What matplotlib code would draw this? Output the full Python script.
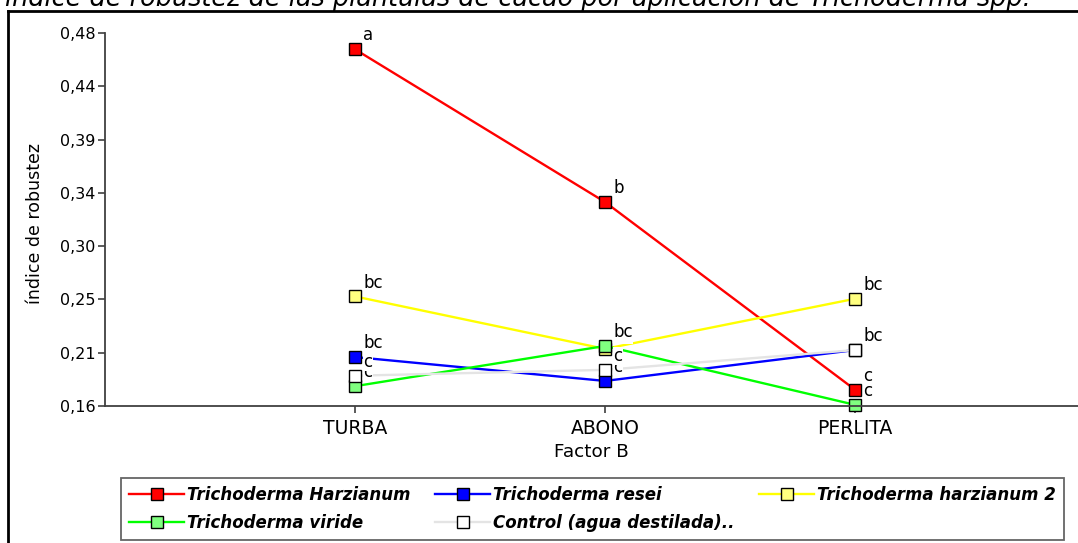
import matplotlib
matplotlib.use("Agg")
import matplotlib.pyplot as plt
from matplotlib.lines import Line2D

plt.rcParams['font.family'] = ['DejaVu Sans']

categories = ["TURBA", "ABONO", "PERLITA"]
series_names = ["Trichoderma Harzianum", "Trichoderma resei", "Trichoderma harzianum 2",
                "Trichoderma viride", "Control (agua destilada).."]
harzianum = [0.466, 0.335, 0.174]
resei = [0.202, 0.1815, 0.208]
harzianum2 = [0.254, 0.209, 0.252]
viride = [0.177, 0.2115, 0.161]
control = [0.186, 0.191, 0.208]
letters_harzianum = ["a", "b", "c"]
letters_resei = ["bc", "c", "bc"]
letters_harzianum2 = ["bc", "bc", "bc"]
letters_viride = ["c", "bc", "c"]
letters_control = ["c", "c", "bc"]
ytick_labels = ["0,16", "0,21", "0,25", "0,30", "0,34", "0,39", "0,44", "0,48"]

values = [harzianum, resei, harzianum2, viride, control]
letters = [letters_harzianum, letters_resei, letters_harzianum2, letters_viride, letters_control]
line_colors = ["#ff0000", "#0000ff", "#ffff00", "#00ff00", "#e4e4e4"]
face_colors = ["#ff0000", "#0000ff", "#ffff80", "#80ff80", "#ffffff"]

W, H = 1078, 543
fig = plt.figure(figsize=(W / 100, H / 100), dpi=100)
ax = fig.add_axes([105 / W, 1 - 406 / H, (W - 105) / W, (406 - 33) / H])

x = list(range(len(categories)))
handles = []
for i, (vals, lab) in enumerate(zip(values, letters)):
    h, = ax.plot(x, vals, color=line_colors[i], lw=1.7, zorder=2,
                 marker="s", markersize=8, markerfacecolor=face_colors[i],
                 markeredgecolor="black", markeredgewidth=1.0, label=series_names[i],
                 clip_on=False)
    handles.append(h)
for i, (vals, lab) in enumerate(zip(values, letters)):
    for xi, v, t in zip(x, vals, lab):
        ax.annotate(t, (xi, v), xytext=(6, 10), textcoords="offset points",
                    ha="left", va="center", fontsize=12, zorder=3 + i,
                    bbox=dict(facecolor="white", edgecolor="none", pad=0.2),
                    annotation_clip=False)

ax.set_xlim(-1.0, 2.892)
ax.set_ylim(0.16, 0.48)
ax.set_xticks(x)
ax.set_xticklabels(categories, fontsize=13.5)
ticks = [0.16 + k * 0.32 / 7 for k in range(8)]
ax.set_yticks(ticks)
ax.set_yticklabels(ytick_labels, fontsize=11.5)
for s in ["top", "right"]:
    ax.spines[s].set_visible(False)
for s in ["left", "bottom"]:
    ax.spines[s].set_color("#404040")
    ax.spines[s].set_linewidth(1.3)
ax.tick_params(length=5, width=1.2, color="#404040", pad=2)
ax.tick_params(axis="x", pad=4)
ax.set_xlabel("Factor B", fontsize=13.2, labelpad=4)
ax.set_ylabel("índice de robustez", fontsize=12.5)
ax.yaxis.set_label_coords(-61 / (W - 105), 0.49)

order = [0, 3, 1, 4, 2]
leg = fig.legend([handles[k] for k in order], [series_names[k] for k in order],
                 loc="upper left", bbox_to_anchor=(121 / W, 1 - 478 / H),
                 ncol=3, frameon=True, fancybox=False,
                 prop=dict(family="DejaVu Sans", size=12, style="oblique", weight="bold"),
                 handlelength=3.3, handletextpad=0.2, columnspacing=1.45,
                 borderpad=0.48, labelspacing=0.62, borderaxespad=0)
leg.get_frame().set_edgecolor("#404040")
leg.get_frame().set_linewidth(1.3)

fig.add_artist(Line2D([8 / W, 8 / W], [0, 1 - 11 / H], transform=fig.transFigure,
                      color="black", lw=2))
fig.add_artist(Line2D([8 / W, 1], [1 - 11 / H, 1 - 11 / H], transform=fig.transFigure,
                      color="black", lw=2))

fig.text(5 / W, 1 - 6 / H,
         "índice de robustez de las plántulas de cacao por aplicación de Trichoderma spp.",
         fontsize=18.4, style="oblique", ha="left", va="baseline")

fig.savefig("out.png", dpi=100)
